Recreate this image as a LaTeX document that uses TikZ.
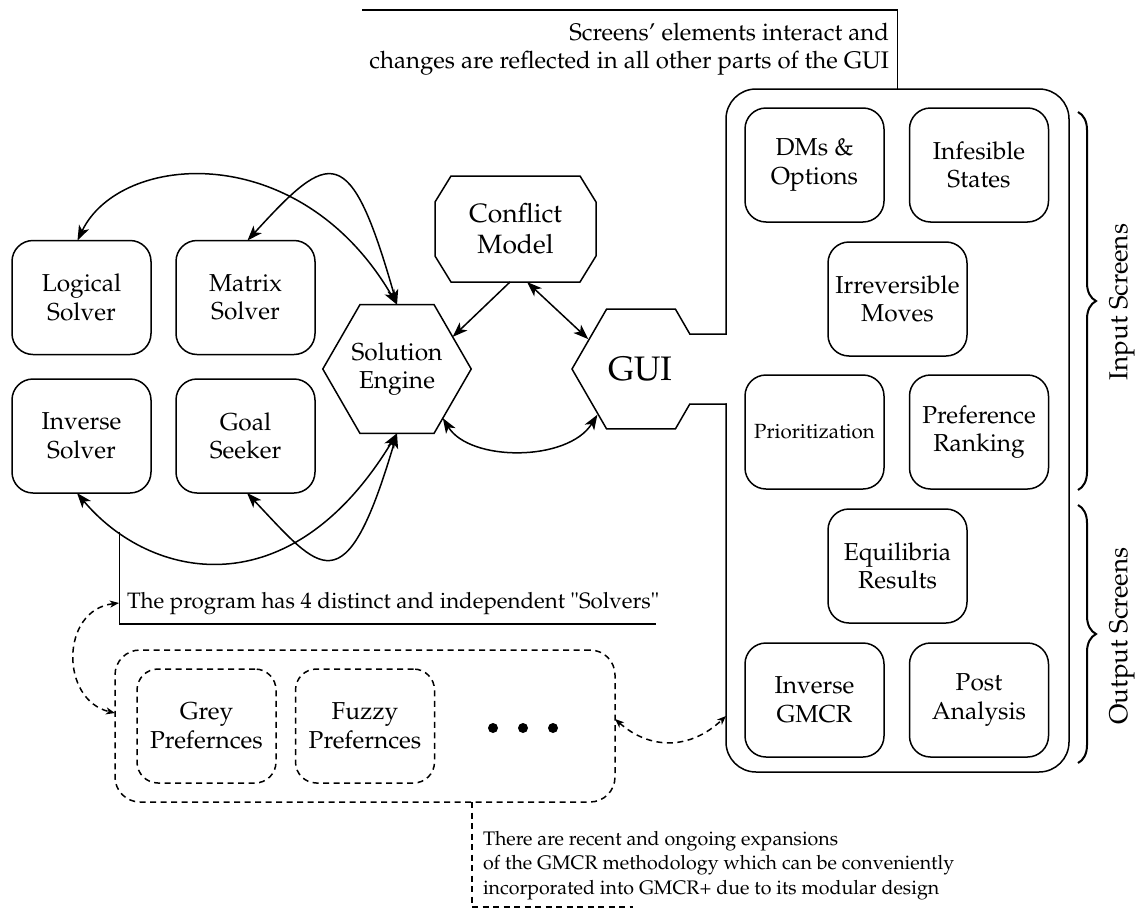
\documentclass[tikz,border=0pt]{standalone}
\usepackage[T1]{fontenc}
\usepackage{mathpazo}
\usetikzlibrary{arrows.meta,shapes.geometric,decorations.pathreplacing}
\begin{document}
\begin{tikzpicture}[x=1pt,y=-1pt,
  line width=1.5pt,
  >={Stealth[length=15pt,width=11pt,inset=4pt]},
  every node/.style={inner sep=0pt, outer sep=0pt},
  txt/.style={font=\fontsize{24.5}{28.5}\selectfont, align=center},
  screenbox/.style={txt, draw, rounded corners=21pt, minimum width=139pt, minimum height=114pt},
  dashes/.style={dash pattern=on 6pt off 4.5pt},
  extbox/.style={screenbox, dashes},
  hexa/.style={regular polygon, regular polygon sides=6, minimum size=138pt},
  dashlink/.style={dashes, {Stealth[length=9pt,width=7pt,inset=2.5pt]}-{Stealth[length=9pt,width=7pt,inset=2.5pt]}},
  note/.style={font=\fontsize{22.3}{28}\selectfont},
  sidelabel/.style={rotate=90, font=\fontsize{26}{30}\selectfont},
  bracestyle/.style={decorate, decoration={brace, amplitude=18pt}, line width=2pt},
]
\useasboundingbox (0,0) rectangle (1138,910);

% ---------- solvers ----------
\node[screenbox] (logical) at (81.5,297.5) {Logical\\Solver};
\node[screenbox] (matrix)  at (245.5,297.5) {Matrix\\Solver};
\node[screenbox] (inverse) at (81.5,436) {Inverse\\Solver};
\node[screenbox] (goal)    at (245.5,436) {Goal\\Seeker};

% ---------- engine, model, GUI ----------
\node[hexa, draw, txt] (engine) at (397,369) {Solution\\Engine};

\node[txt, font=\fontsize{26.5}{31}\selectfont, minimum width=161pt, minimum height=106pt] (model) at (515.5,229) {Conflict\\Model};
\draw ([xshift=16pt]model.north west) -- ([xshift=-16pt]model.north east)
  -- ([yshift=-26pt]model.north east) -- ([yshift=26pt]model.south east)
  -- ([xshift=-16pt]model.south east) -- ([xshift=16pt]model.south west)
  -- ([yshift=26pt]model.south west) -- ([yshift=-26pt]model.north west) -- cycle;

\node[hexa, font=\fontsize{34}{40}\selectfont] (gui) at (640,369) {GUI};

% screens container, opened towards the GUI hexagon
\node[minimum width=343pt, minimum height=683pt] (screens) at (897.5,430.5) {};
\draw[rounded corners=30pt, line cap=rect] (726,334) -- (screens.north west) -- (screens.north east)
  -- (screens.south east) -- (screens.south west) -- (726,404);
\draw[line cap=rect] (726,404) -- (689.8,404) -- (675.5,428.76) -- (606.5,428.76) -- (572,369)
  -- (606.5,309.24) -- (675.5,309.24) -- (689.8,334) -- (726,334);

% ---------- screens ----------
\node[screenbox] (dms)    at (814.5,165) {DMs \&\\Options};
\node[screenbox] (infeas) at (979,165) {Infesible\\States};
\node[screenbox] (irrev)  at (897.5,299) {Irreversible\\Moves};
\node[screenbox, font=\fontsize{20.5}{24}\selectfont] (prio) at (814.5,432) {Prioritization};
\node[screenbox] (pref)   at (979,432) {Preference\\Ranking};
\node[screenbox] (equil)  at (897.5,566) {Equilibria\\Results};
\node[screenbox] (invg)   at (814.5,700) {Inverse\\GMCR};
\node[screenbox] (post)   at (979,700) {Post\\Analysis};

\draw[bracestyle] (1078,112) -- (1078,490);
\draw[bracestyle] (1078,505) -- (1078,763);
\node[sidelabel] (inlabel)  at (1122,302) {Input Screens};
\node[sidelabel] (outlabel) at (1122,636) {Output Screens};

% ---------- top note ----------
\coordinate (topstart) at (362,10);
\draw (topstart) -| (screens.north);
\node[font=\fontsize{24}{28}\selectfont, align=right, anchor=north east] (topnote) at (889,23)
  {Screens' elements interact and\\changes are reflected in all other parts of the GUI};

% ---------- connectors ----------
\draw[->] ([xshift=-5.5pt]model.south) -- (engine.30);
\draw[<->] ([xshift=11.5pt]model.south) -- (gui.150);
\draw[<->] (engine.-47) .. controls (470,462) and (568,462) .. (gui.-133);

\draw[<->] ([xshift=-4pt]logical.north) .. controls (120,152) and (300,138) .. (engine.north);
\draw[<->] ([xshift=2pt]matrix.north) .. controls (330,150) and (350,140) .. (engine.north);
\draw[<->] ([xshift=-4.5pt]inverse.south) .. controls (150,580) and (290,610) .. (engine.south)
  coordinate[pos=0.17] (tap);
\draw[<->] ([xshift=1.5pt]goal.south) .. controls (320,570) and (345,610) .. (engine.south);

% ---------- solvers note ----------
\coordinate (progend) at (656,624);
\draw (tap) |- (progend);
\node[note, anchor=base west] (solvnote) at (127,608) {The program has 4 distinct and independent "Solvers"};

% ---------- extensions ----------
\node[draw, dashes, rounded corners=25pt, minimum width=500pt, minimum height=152pt] (ext) at (365,726) {};
\node[extbox] (grey)  at (206.5,726) {Grey\\Prefernces};
\node[extbox] (fuzzy) at (365,726) {Fuzzy\\Prefernces};
\node[circle, fill, minimum size=10pt] (dot1) at (493,728) {};
\node[circle, fill, minimum size=10pt] (dot2) at (523,728) {};
\node[circle, fill, minimum size=10pt] (dot3) at (553,728) {};

\coordinate (progleft) at (119,603);
\draw[dashlink] (progleft) .. controls (60,610) and (60,700) .. ([yshift=13pt]ext.west);
\draw[dashlink] ([yshift=7pt]ext.east) .. controls (650,750) and (690,750) .. ([yshift=56pt]screens.south west);

\coordinate (extend) at (633,907);
\draw[dashes] ([xshift=107pt]ext.south) |- (extend);
\node[font=\fontsize{19.6}{24.5}\selectfont, align=left, anchor=north west] (extnote) at (483,831)
  {There are recent and ongoing expansions\\of the GMCR methodology which can be conveniently\\incorporated into GMCR+ due to its modular design};
\end{tikzpicture}
\end{document}
